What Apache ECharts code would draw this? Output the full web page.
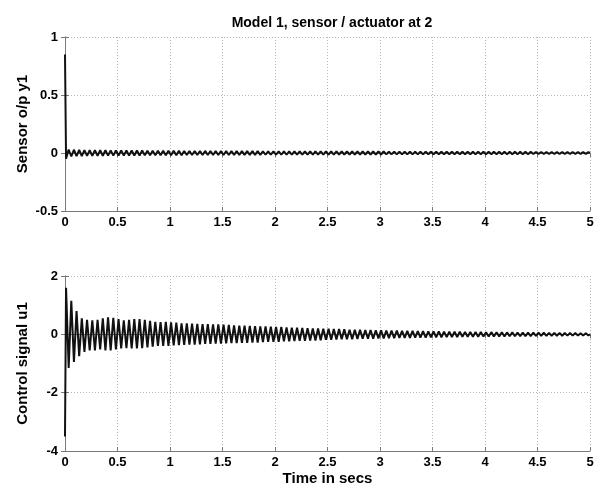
<!DOCTYPE html>
<html>
<head>
<meta charset="utf-8">
<script src="https://cdn.jsdelivr.net/npm/echarts@6/dist/echarts.min.js"></script>
<style>
html,body{margin:0;padding:0;background:#fff;}
#chart{width:601px;height:489px;}
</style>
</head>
<body>
<div id="chart"></div>
<script>
const time = [0,
0.01,0.035,0.06,0.085,0.11,0.135,0.16,0.185,0.21,0.235,
0.26,0.285,0.31,0.335,0.36,0.385,0.41,0.435,0.46,0.485,
0.51,0.535,0.56,0.585,0.61,0.635,0.66,0.685,0.71,0.735,
0.76,0.785,0.81,0.835,0.86,0.885,0.91,0.935,0.96,0.985,
1.01,1.035,1.06,1.085,1.11,1.135,1.16,1.185,1.21,1.235,
1.26,1.285,1.31,1.335,1.36,1.385,1.41,1.435,1.46,1.485,
1.51,1.535,1.56,1.585,1.61,1.635,1.66,1.685,1.71,1.735,
1.76,1.785,1.81,1.835,1.86,1.885,1.91,1.935,1.96,1.985,
2.01,2.035,2.06,2.085,2.11,2.135,2.16,2.185,2.21,2.235,
2.26,2.285,2.31,2.335,2.36,2.385,2.41,2.435,2.46,2.485,
2.51,2.535,2.56,2.585,2.61,2.635,2.66,2.685,2.71,2.735,
2.76,2.785,2.81,2.835,2.86,2.885,2.91,2.935,2.96,2.985,
3.01,3.035,3.06,3.085,3.11,3.135,3.16,3.185,3.21,3.235,
3.26,3.285,3.31,3.335,3.36,3.385,3.41,3.435,3.46,3.485,
3.51,3.535,3.56,3.585,3.61,3.635,3.66,3.685,3.71,3.735,
3.76,3.785,3.81,3.835,3.86,3.885,3.91,3.935,3.96,3.985,
4.01,4.035,4.06,4.085,4.11,4.135,4.16,4.185,4.21,4.235,
4.26,4.285,4.31,4.335,4.36,4.385,4.41,4.435,4.46,4.485,
4.51,4.535,4.56,4.585,4.61,4.635,4.66,4.685,4.71,4.735,
4.76,4.785,4.81,4.835,4.86,4.885,4.91,4.935,4.96,4.985,
5];

// Sensor output y1
const y1 = [0.85,
-0.05,0.03,-0.03,0.028,-0.027,0.026,-0.026,0.025,-0.025,0.025,
-0.025,0.025,-0.024,0.024,-0.024,0.024,-0.023,0.023,-0.023,0.023,
-0.022,0.022,-0.022,0.022,-0.022,0.021,-0.021,0.021,-0.021,0.021,
-0.02,0.02,-0.02,0.02,-0.02,0.02,-0.02,0.02,-0.019,0.019,
-0.019,0.019,-0.019,0.019,-0.019,0.018,-0.018,0.018,-0.018,0.018,
-0.018,0.018,-0.018,0.018,-0.017,0.017,-0.017,0.017,-0.017,0.017,
-0.017,0.017,-0.017,0.017,-0.016,0.016,-0.016,0.016,-0.016,0.016,
-0.016,0.016,-0.016,0.016,-0.016,0.015,-0.015,0.015,-0.015,0.015,
-0.015,0.015,-0.015,0.015,-0.015,0.015,-0.015,0.015,-0.014,0.014,
-0.014,0.014,-0.014,0.014,-0.014,0.014,-0.014,0.014,-0.014,0.014,
-0.014,0.014,-0.014,0.014,-0.013,0.013,-0.013,0.013,-0.013,0.013,
-0.013,0.013,-0.013,0.013,-0.013,0.013,-0.013,0.013,-0.013,0.013,
-0.013,0.013,-0.012,0.012,-0.012,0.012,-0.012,0.012,-0.012,0.012,
-0.012,0.012,-0.012,0.012,-0.012,0.012,-0.012,0.012,-0.011,0.011,
-0.011,0.011,-0.011,0.011,-0.011,0.011,-0.011,0.011,-0.011,0.011,
-0.011,0.011,-0.011,0.011,-0.011,0.011,-0.01,0.01,-0.01,0.01,
-0.01,0.01,-0.01,0.01,-0.01,0.01,-0.01,0.01,-0.01,0.01,
-0.01,0.01,-0.01,0.01,-0.01,0.01,-0.01,0.01,-0.009,0.009,
-0.009,0.009,-0.009,0.009,-0.009,0.009,-0.009,0.009,-0.009,0.009,
-0.009,0.009,-0.009,0.009,-0.009,0.009,-0.008,0.008,-0.008,0.008,
0];

// Control signal u1
const u1 = [-3.5,
1.6,-1.15,1.15,-0.95,0.8,-0.75,0.55,-0.6,0.5,-0.55,
0.48,-0.55,0.5,-0.52,0.55,-0.55,0.58,-0.55,0.57,-0.52,
0.52,-0.48,0.48,-0.47,0.5,-0.48,0.52,-0.48,0.52,-0.47,
0.5,-0.45,0.46,-0.42,0.43,-0.4,0.42,-0.4,0.43,-0.4,
0.41,-0.38,0.4,-0.37,0.38,-0.36,0.38,-0.35,0.37,-0.35,
0.36,-0.34,0.35,-0.33,0.35,-0.33,0.34,-0.32,0.34,-0.32,
0.33,-0.31,0.32,-0.3,0.31,-0.3,0.3,-0.29,0.3,-0.29,
0.29,-0.28,0.28,-0.28,0.27,-0.27,0.27,-0.26,0.26,-0.26,
0.25,-0.26,0.25,-0.24,0.24,-0.24,0.23,-0.23,0.23,-0.22,
0.22,-0.22,0.21,-0.21,0.2,-0.21,0.2,-0.2,0.19,-0.19,
0.19,-0.19,0.18,-0.18,0.18,-0.17,0.17,-0.17,0.16,-0.17,
0.16,-0.16,0.16,-0.15,0.15,-0.15,0.15,-0.15,0.14,-0.14,
0.14,-0.14,0.13,-0.13,0.13,-0.13,0.13,-0.12,0.12,-0.12,
0.12,-0.12,0.12,-0.11,0.11,-0.11,0.11,-0.11,0.1,-0.1,
0.1,-0.1,0.1,-0.1,0.095,-0.095,0.09,-0.09,0.09,-0.09,
0.09,-0.085,0.085,-0.085,0.08,-0.08,0.08,-0.08,0.08,-0.075,
0.075,-0.075,0.075,-0.07,0.07,-0.07,0.07,-0.07,0.065,-0.065,
0.065,-0.065,0.06,-0.06,0.06,-0.06,0.06,-0.06,0.055,-0.055,
0.055,-0.055,0.055,-0.05,0.05,-0.05,0.05,-0.05,0.05,-0.05,
0.045,-0.045,0.045,-0.045,0.045,-0.045,0.04,-0.04,0.04,-0.04,
0];

const titleText = 'Model 1, sensor / actuator at 2';
const xName = 'Time in secs';
const y1Name = 'Sensor o/p y1';
const u1Name = 'Control signal u1';

const FONT = '"Liberation Sans", Arial, sans-serif';
const BORDER = '#7a7a7a';
const lbl = {color:'#000', fontFamily:FONT, fontWeight:'bold', fontSize:13};

function pairs(xs, ys){ return xs.map((t,i)=>[t, ys[i]]); }

function xAx(g, withLabels){
  return {
    gridIndex:g, type:'value', min:0, max:5, interval:0.5,
    axisLine:{show:true, onZero:false, lineStyle:{color:BORDER, width:1}},
    axisTick:{show:true, inside:true, length:4, lineStyle:{color:BORDER}},
    axisLabel:Object.assign({show:withLabels, margin:5}, lbl),
    splitLine:{show:true, lineStyle:{type:[1,2], color:'#b5b5b5', width:1}}
  };
}
function xTop(g){
  return {gridIndex:g, type:'value', min:0, max:5, interval:0.5, position:'top',
    axisLine:{show:true, lineStyle:{color:BORDER}},
    axisTick:{show:true, inside:true, length:4, lineStyle:{color:BORDER}},
    axisLabel:{show:false}, splitLine:{show:false}};
}
function yRight(g, mn, mx, iv){
  return {gridIndex:g, type:'value', min:mn, max:mx, interval:iv, position:'right',
    axisLine:{show:true, lineStyle:{color:BORDER}},
    axisTick:{show:true, inside:true, length:4, lineStyle:{color:BORDER}},
    axisLabel:{show:false}, splitLine:{show:false}};
}
function yAx(g, mn, mx, iv, name){
  return {
    gridIndex:g, type:'value', min:mn, max:mx, interval:iv,
    name:name, nameLocation:'middle', nameGap:35, nameMoveOverlap:false,
    nameTextStyle:{color:'#000', fontFamily:FONT, fontWeight:'bold', fontSize:15},
    axisLine:{show:true, onZero:false, lineStyle:{color:BORDER, width:1}},
    axisTick:{show:true, inside:true, length:4, lineStyle:{color:BORDER}},
    axisLabel:Object.assign({margin:7}, lbl),
    splitLine:{show:true, lineStyle:{type:[1,2], color:'#b5b5b5', width:1}}
  };
}

const chart = echarts.init(document.getElementById('chart'), null, {renderer:'canvas'});
const xBottom = xAx(1, true);
xBottom.name = xName;
xBottom.nameLocation = 'middle';
xBottom.nameGap = 20;
xBottom.nameMoveOverlap = false;
xBottom.nameTextStyle = {color:'#000', fontFamily:FONT, fontWeight:'bold', fontSize:15};

chart.setOption({
  animation:false,
  backgroundColor:'#fff',
  title:{text:titleText, left:327, top:11, textAlign:'center',
    textStyle:{color:'#000', fontFamily:FONT, fontWeight:'bold', fontSize:14}},
  grid:[
    {left:65, top:37, width:525, height:174, show:false},
    {left:65, top:276, width:525, height:175, show:false}
  ],
  xAxis:[xAx(0, true), xBottom, xTop(0), xTop(1)],
  yAxis:[yAx(0, -0.5, 1, 0.5, y1Name), yAx(1, -4, 2, 2, u1Name),
         yRight(0, -0.5, 1, 0.5), yRight(1, -4, 2, 2)],
  series:[
    {type:'line', xAxisIndex:0, yAxisIndex:0, data:pairs(time, y1), showSymbol:false,
     sampling:null, lineStyle:{color:'#111', width:2}, z:5},
    {type:'line', xAxisIndex:1, yAxisIndex:1, data:pairs(time, u1), showSymbol:false,
     sampling:null, lineStyle:{color:'#111', width:2}, z:5}
  ]
});
</script>
</body>
</html>
